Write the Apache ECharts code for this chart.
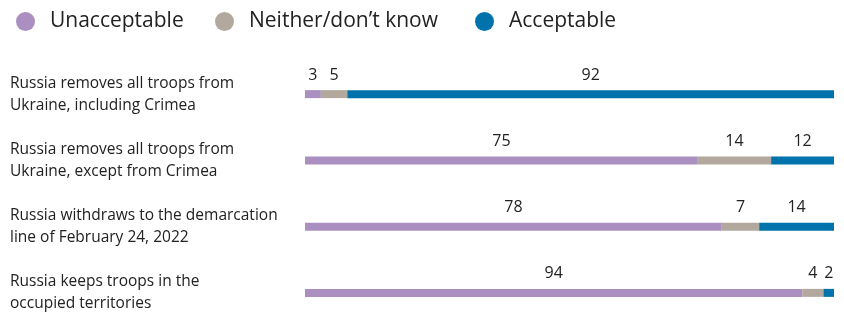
<!DOCTYPE html>
<html>
<head>
<meta charset="utf-8">
<script src="https://cdn.jsdelivr.net/npm/echarts@6/dist/echarts.min.js"></script>
<style>
  html, body { margin: 0; padding: 0; background: #fff; }
  #main { width: 844px; height: 317px; }
</style>
</head>
<body>
<div id="main"></div>
<script>
var categories = [
  'Russia removes all troops from\nUkraine, including Crimea',
  'Russia removes all troops from\nUkraine, except from Crimea',
  'Russia withdraws to the demarcation\nline of February 24, 2022',
  'Russia keeps troops in the\noccupied territories'
];
var unacceptable = [3, 75, 78, 94];
var neither = [5, 14, 7, 4];
var acceptable = [92, 12, 14, 2];

var seriesNames = ['Unacceptable', 'Neither/don\u2019t know', 'Acceptable'];
var colors = ['#ab8fc0', '#b3a89e', '#0073ad'];
var legendLeft = [11, 210, 470];
var font = '"Open Sans", "Noto Sans", sans-serif';

// rows are shown at full width, so scale each row to its own total
var rows = [unacceptable, neither, acceptable];
function share(vals) {
  return vals.map(function (v, i) {
    var total = unacceptable[i] + neither[i] + acceptable[i];
    return { value: v / total * 100, raw: v };
  });
}

var chart = echarts.init(document.getElementById('main'));
chart.setOption({
  backgroundColor: '#ffffff',
  animation: false,
  legend: seriesNames.map(function (name, k) {
    return {
      left: legendLeft[k],
      top: 6,
      icon: 'circle',
      itemWidth: 19,
      itemHeight: 19,
      textStyle: { fontFamily: font, fontSize: 21, color: '#222', padding: [0, 0, 0, 10] },
      data: [name]
    };
  }),
  grid: { left: 305, right: 10, top: 61, height: 265, outerBoundsMode: 'none' },
  xAxis: {
    type: 'value', min: 0, max: 100, show: false
  },
  yAxis: {
    type: 'category',
    inverse: true,
    data: categories,
    axisLine: { show: false },
    axisTick: { show: false },
    axisLabel: {
      align: 'left',
      margin: 295,
      fontFamily: font,
      fontSize: 15.5,
      lineHeight: 22,
      color: '#222',
      padding: [0, 0, 8, 0]
    }
  },
  series: rows.map(function (vals, k) {
    return {
      name: seriesNames[k],
      type: 'bar',
      stack: 'total',
      barWidth: 8,
      itemStyle: { color: colors[k] },
      label: {
        show: true,
        position: 'top',
        distance: 7,
        fontFamily: font,
        fontSize: 16,
        color: '#222',
        formatter: function (p) { return p.data.raw; }
      },
      data: share(vals)
    };
  })
});
</script>
</body>
</html>
